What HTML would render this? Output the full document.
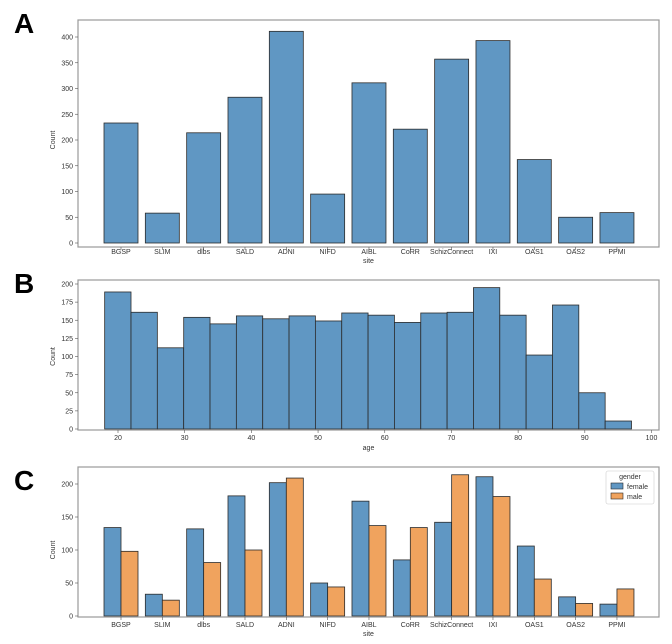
<!DOCTYPE html>
<html><head><meta charset="utf-8"><style>
body{margin:0;background:#fff;}
svg{display:block;font-family:"Liberation Sans",sans-serif;}
.t{font-size:7px;fill:#333;}
.lt{font-size:28px;font-weight:bold;fill:#000;}
</style></head><body>
<svg id="s" width="672" height="644"></svg>
<script>
const sites=["BGSP","SLIM","dlbs","SALD","ADNI","NIFD","AIBL","CoRR","SchizConnect","IXI","OAS1","OAS2","PPMI"];
const siteCounts=[233,58,214,283,411,95,311,221,357,393,162,50,59];
const ageCounts=[189,161,112,154,145,156,152,156,149,160,157,147,160,161,195,157,102,171,50,11];
const ageMin=18, ageMax=97;
const femaleCounts=[134,33,132,182,202,50,174,85,142,211,106,29,18];
const maleCounts=[98,24,81,100,209,44,137,134,214,181,56,19,41];
const ticksA=[0,50,100,150,200,250,300,350,400];
const ticksB=[0,25,50,75,100,125,150,175,200];
const ticksBx=[20,30,40,50,60,70,80,90,100];
const ticksC=[0,50,100,150,200];

const NS="http://www.w3.org/2000/svg";
const svg=document.getElementById('s');
function el(tag,attrs,parent,text){const e=document.createElementNS(NS,tag);for(const k in attrs)e.setAttribute(k,attrs[k]);if(text!==undefined)e.textContent=text;(parent||svg).appendChild(e);return e;}
const BLUE="#6097c3",ORANGE="#f0a35e",EDGE="#2b2b2b";
const L=78,R=659;
function catX(i){return 121+i*41.33;}

function frame(g,top,bot){
  const r=el('rect',{x:L,y:top,width:R-L,height:bot-top,fill:'none',stroke:'#999','stroke-width':1.2},g);
  
  
}
function yAxis(g,ticks,y0,k,name){
  ticks.forEach(v=>{const y=y0-v*k;
    el('line',{x1:L-3,x2:L,y1:y,y2:y,stroke:'#555','stroke-width':0.6},g);
    const t=el('text',{x:L-5,y:y+2.5,'text-anchor':'end',class:'t'},g,String(v));
    
    
  });
  const mid=(y0-ticks[ticks.length-1]*k+y0)/2;
  const t=el('text',{x:0,y:0,class:'t',transform:`translate(55,${mid}) rotate(-90)`,'text-anchor':'middle'},g,'Count');
  
  
}
function catAxis(g,y0,labY,titleY){
  sites.forEach((s,i)=>{const x=catX(i);
    el('line',{x1:x,x2:x,y1:y0,y2:y0+3,stroke:'#555','stroke-width':0.6},g);
    const t=el('text',{x:x,y:labY,'text-anchor':'middle',class:'t'},g,s);
    
    
  });
  const t=el('text',{x:(L+R)/2,y:titleY,'text-anchor':'middle',class:'t'},g,'site');
  
  
}
function letter(ch,y){const t=el('text',{x:14,y:y,class:'lt'},svg,ch);
  
  }

// Panel A
{const g=el('g',{});
 const top=20,y0=243,bot=247,k=(243-37)/400;
 siteCounts.forEach((v,i)=>{const b=el('rect',{x:catX(i)-17,y:y0-v*k,width:34,height:v*k,fill:BLUE,stroke:EDGE,'stroke-width':0.8},g);
   
   });
 frame(g,top,bot);yAxis(g,ticksA,y0,k);catAxis(g,bot,254,263);letter('A',33);}

// Panel B
{const g=el('g',{});
 const top=280,y0=429,bot=430,k=(429-284)/200;
 const ax=v=>118+(v-20)*(651.5-118)/80;
 const w=(ageMax-ageMin)/ageCounts.length;
 ageCounts.forEach((v,i)=>{const x1=ax(ageMin+i*w),x2=ax(ageMin+(i+1)*w);
   const b=el('rect',{x:x1,y:y0-v*k,width:x2-x1,height:v*k,fill:BLUE,stroke:EDGE,'stroke-width':0.8},g);
   
   });
 frame(g,top,bot);yAxis(g,ticksB,y0,k);
 ticksBx.forEach(v=>{const x=ax(v);el('line',{x1:x,x2:x,y1:bot,y2:bot+3,stroke:'#555','stroke-width':0.6},g);
   const t=el('text',{x:x,y:440,'text-anchor':'middle',class:'t'},g,String(v));
   
   });
 const t=el('text',{x:(L+R)/2,y:450,'text-anchor':'middle',class:'t'},g,'age');
 
 letter('B',293);}

// Panel C
{const g=el('g',{});
 const top=467,y0=616,bot=617,k=(616-484)/200;
 sites.forEach((s,i)=>{const x=catX(i);
   const f=femaleCounts[i],m=maleCounts[i];
   const b1=el('rect',{x:x-17,y:y0-f*k,width:17,height:f*k,fill:BLUE,stroke:EDGE,'stroke-width':0.8},g);
   
   
   const b2=el('rect',{x:x,y:y0-m*k,width:17,height:m*k,fill:ORANGE,stroke:EDGE,'stroke-width':0.8},g);
   
   });
 frame(g,top,bot);yAxis(g,ticksC,y0,k);catAxis(g,bot,627,636);
 const lg=el('g',{},g);
 el('rect',{x:606,y:471,width:48,height:33,fill:'#fff',stroke:'#ccc','stroke-width':0.6,rx:2},lg);
 el('text',{x:630,y:479,'text-anchor':'middle',class:'t'},lg,'gender');
 const e1=el('g',{},lg);
 el('rect',{x:611,y:483,width:12,height:6,fill:BLUE,stroke:EDGE,'stroke-width':0.6},e1);
 el('text',{x:627,y:489,class:'t'},e1,'female');
 const e2=el('g',{},lg);
 el('rect',{x:611,y:493,width:12,height:6,fill:ORANGE,stroke:EDGE,'stroke-width':0.6},e2);
 el('text',{x:627,y:499,class:'t'},e2,'male');
 letter('C',490);}
</script>
</body></html>
